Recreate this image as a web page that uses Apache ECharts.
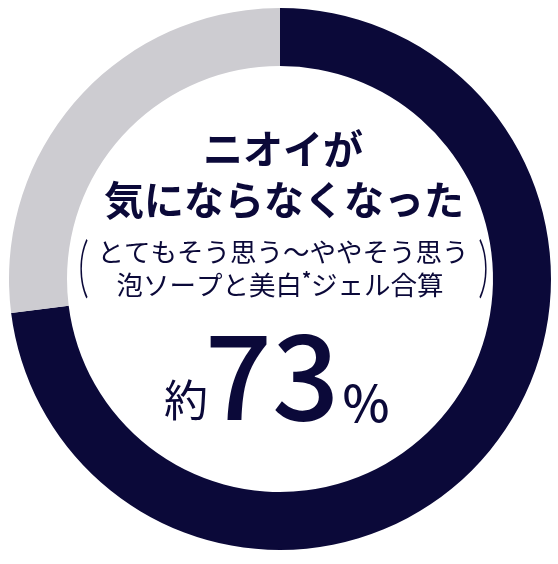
<!DOCTYPE html>
<html><head><meta charset="utf-8">
<script src="https://cdn.jsdelivr.net/npm/echarts@6/dist/echarts.min.js"></script>
<style>html,body{margin:0;padding:0;background:#fff}#c{width:558px;height:564px}</style>
</head><body><div id="c"></div>
<script>
var categories = ['そう思う', 'その他'];
var values = [73, 27];
var headline = ['ニオイが', '気にならなくなった'];
var noteLines = ['とてもそう思う～ややそう思う', '泡ソープと美白', '*', 'ジェル合算'];
var brackets = ['（', '）'];
var bigParts = ['約', '73', '%'];

var NAVY = '#0b0939';
var GRAY = '#cdccd1';
var FONT = '"Noto Sans CJK JP", "Noto Sans", sans-serif';

var chart = echarts.init(document.getElementById('c'), null, {renderer: 'canvas'});
chart.setOption({
  animation: false,
  series: [{
    type: 'pie',
    center: [280, 279],
    radius: [213, 271],
    startAngle: 90,
    clockwise: true,
    silent: true,
    label: {show: false},
    labelLine: {show: false},
    itemStyle: {borderWidth: 0},
    data: categories.map(function (c, i) {
      return {name: c, value: values[i], itemStyle: {color: i === 0 ? NAVY : GRAY}};
    })
  }],
  graphic: [
    {type: 'text', style: {x: 283, y: 149, text: headline[0], font: 'bold 40px ' + FONT, fill: NAVY, textAlign: 'center', textVerticalAlign: 'middle'}},
    {type: 'text', style: {x: 284, y: 200, text: headline[1], font: 'bold 40px ' + FONT, fill: NAVY, textAlign: 'center', textVerticalAlign: 'middle'}},
    {type: 'text', style: {x: 283, y: 252, text: noteLines[0], font: '26.5px ' + FONT, fill: NAVY, textAlign: 'center', textVerticalAlign: 'middle'}},
    {type: 'text', style: {x: 280, y: 285, textAlign: 'center', textVerticalAlign: 'middle',
      text: '{a|' + noteLines[1] + '}{s|' + noteLines[2] + '}{a|' + noteLines[3] + '}',
      rich: {
        a: {font: '26.5px ' + FONT, fill: NAVY, lineHeight: 30},
        s: {font: 'bold 18px ' + FONT, fill: NAVY, verticalAlign: 'top', lineHeight: 30, padding: [0, 0, 10, 0]}
      }}},
    {type: 'text', x: 89, y: 268, scaleX: 1, scaleY: 2.1, style: {x: 0, y: 0, text: brackets[0], font: '300 30px ' + FONT, fill: NAVY, textAlign: 'right', textVerticalAlign: 'middle'}},
    {type: 'text', x: 478, y: 268, scaleX: 1, scaleY: 2.1, style: {x: 0, y: 0, text: brackets[1], font: '300 30px ' + FONT, fill: NAVY, textAlign: 'left', textVerticalAlign: 'middle'}},
    {type: 'text', style: {x: 186, y: 400, text: bigParts[0], font: '44px ' + FONT, fill: NAVY, textAlign: 'center', textVerticalAlign: 'middle'}},
    {type: 'text', style: {x: 272, y: 375, text: bigParts[1], font: '500 118px ' + FONT, fill: NAVY, textAlign: 'center', textVerticalAlign: 'middle'}},
    {type: 'text', style: {x: 366, y: 403, text: bigParts[2], font: '500 50px ' + FONT, fill: NAVY, textAlign: 'center', textVerticalAlign: 'middle'}}
  ]
});
</script></body></html>
